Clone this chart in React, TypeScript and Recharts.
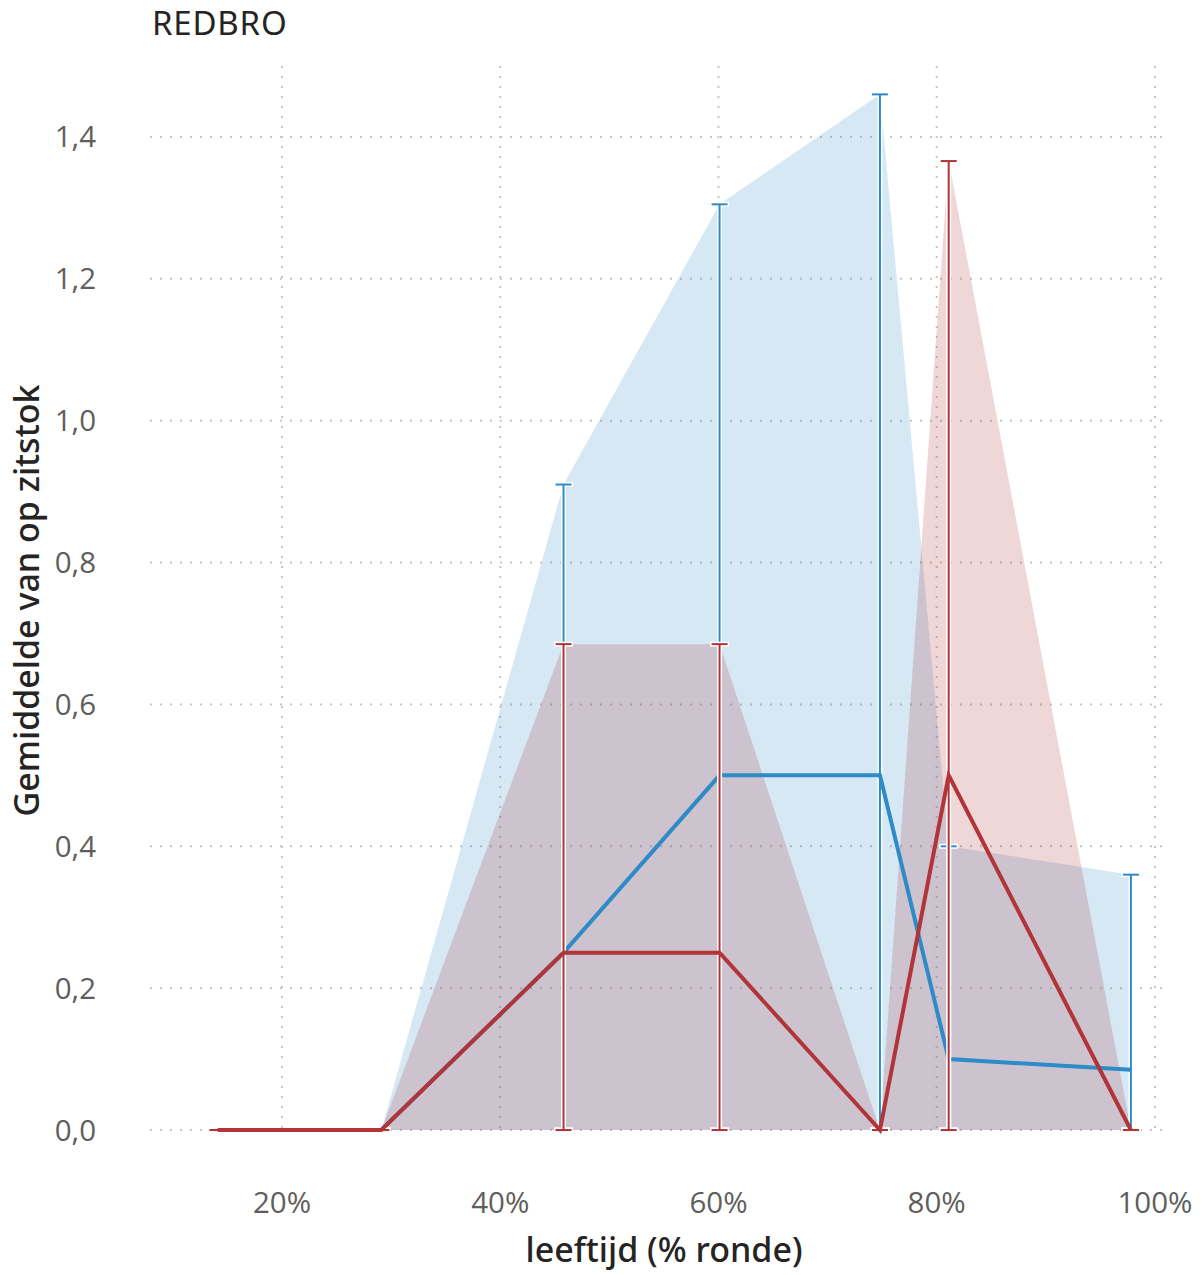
import React from "react";
import {
  Area,
  CartesianGrid,
  ComposedChart,
  ErrorBar,
  Line,
  XAxis,
  YAxis,
} from "recharts";

// leeftijd as fraction of the round
const ageX = [0.141, 0.291, 0.458, 0.601, 0.748, 0.811, 0.978];
const blueMean = [0, 0, 0.25, 0.5, 0.5, 0.1, 0.085];
const blueUpper = [0, 0, 0.91, 1.305, 1.46, 0.4, 0.36];
const redMean = [0, 0, 0.25, 0.25, 0, 0.5, 0];
const redUpper = [0, 0, 0.685, 0.685, 0, 1.366, 0];
const xTicks = [0.2, 0.4, 0.6, 0.8, 1.0];
const yTicks = [0, 0.2, 0.4, 0.6, 0.8, 1.0, 1.2, 1.4];

const BLUE = "#2e8bc8";
const RED = "#b03438";

const data = ageX.map((x, i) => ({
  x,
  blueMean: blueMean[i],
  blueUpper: blueUpper[i],
  blueErr: [blueMean[i], blueUpper[i] - blueMean[i]],
  redMean: redMean[i],
  redUpper: redUpper[i],
  redErr: [redMean[i], redUpper[i] - redMean[i]],
}));

const tickStyle = { fill: "#605e5c", fontSize: 29.5, fontFamily: "Open Sans" };
const titleFont = "'Noto Sans', sans-serif";

export default function App() {
  return (
    <div style={{ position: "absolute", left: 0, top: 0, width: 1204, height: 1275 }}>
      <div
        style={{
          position: "absolute",
          left: 152,
          top: 0,
          fontFamily: titleFont,
          fontSize: 33,
          fontWeight: 400,
          letterSpacing: 0.8,
          color: "#252423",
        }}
      >
        REDBRO
      </div>
      <ComposedChart
        width={1204}
        height={1275}
        data={data}
        margin={{ top: 66, right: 36, bottom: 0, left: 0 }}
      >
        <CartesianGrid
          stroke="#c8c6c4"
          strokeWidth={2}
          strokeDasharray="2 8"
          syncWithTicks
        />
        <XAxis
          type="number"
          dataKey="x"
          domain={[0.079, 1.012]}
          ticks={xTicks}
          allowDataOverflow
          tickFormatter={(v) => `${Math.round(v * 100)}%`}
          tick={tickStyle}
          tickLine={false}
          axisLine={false}
          tickSize={0}
          tickMargin={57}
          height={140}
          label={{
            content: (props: any) => {
              const vb = props.viewBox;
              return (
                <text
                  x={vb.x + vb.width / 2 + 5}
                  y={vb.y + vb.height - 13}
                  textAnchor="middle"
                  fontFamily={titleFont}
                  fontSize={34}
                  fontWeight={500}
                  fill="#252423"
                >
                  leeftijd (% ronde)
                </text>
              );
            },
          }}
        />
        <YAxis
          type="number"
          domain={[-0.007, 1.5]}
          ticks={yTicks}
          allowDataOverflow
          tickFormatter={(v) => v.toFixed(1).replace(".", ",")}
          tick={tickStyle}
          tickLine={false}
          axisLine={false}
          tickSize={0}
          tickMargin={54}
          width={150}
          label={{
            content: (props: any) => {
              const vb = props.viewBox;
              const cx = vb.x + 26;
              const cy = vb.y + vb.height / 2;
              return (
                <text
                  x={cx}
                  y={cy}
                  transform={`rotate(-90 ${cx} ${cy})`}
                  textAnchor="middle"
                  dominantBaseline="central"
                  fontFamily={titleFont}
                  fontSize={34}
                  fontWeight={500}
                  fill="#252423"
                >
                  Gemiddelde van op zitstok
                </text>
              );
            },
          }}
        />
        <Area
          type="linear"
          dataKey="blueUpper"
          baseValue={0}
          fill={BLUE}
          fillOpacity={0.2}
          stroke="none"
          isAnimationActive={false}
          activeDot={false}
        />
        <Area
          type="linear"
          dataKey="redUpper"
          baseValue={0}
          fill={RED}
          fillOpacity={0.2}
          stroke="none"
          isAnimationActive={false}
          activeDot={false}
        />
        <Line
          type="linear"
          dataKey="blueMean"
          stroke={BLUE}
          strokeWidth={4}
          dot={false}
          activeDot={false}
          isAnimationActive={false}
        >
          <ErrorBar dataKey="blueErr" direction="y" width={9.5} stroke="#ffffff" strokeWidth={5} isAnimationActive={false} />
          <ErrorBar dataKey="blueErr" direction="y" width={8} stroke={BLUE} strokeWidth={2} isAnimationActive={false} />
        </Line>
        <Line
          type="linear"
          dataKey="redMean"
          stroke={RED}
          strokeWidth={4}
          dot={false}
          activeDot={false}
          isAnimationActive={false}
        >
          <ErrorBar dataKey="redErr" direction="y" width={9.5} stroke="#ffffff" strokeWidth={5} isAnimationActive={false} />
          <ErrorBar dataKey="redErr" direction="y" width={8} stroke={RED} strokeWidth={2} isAnimationActive={false} />
        </Line>
      </ComposedChart>
    </div>
  );
}
